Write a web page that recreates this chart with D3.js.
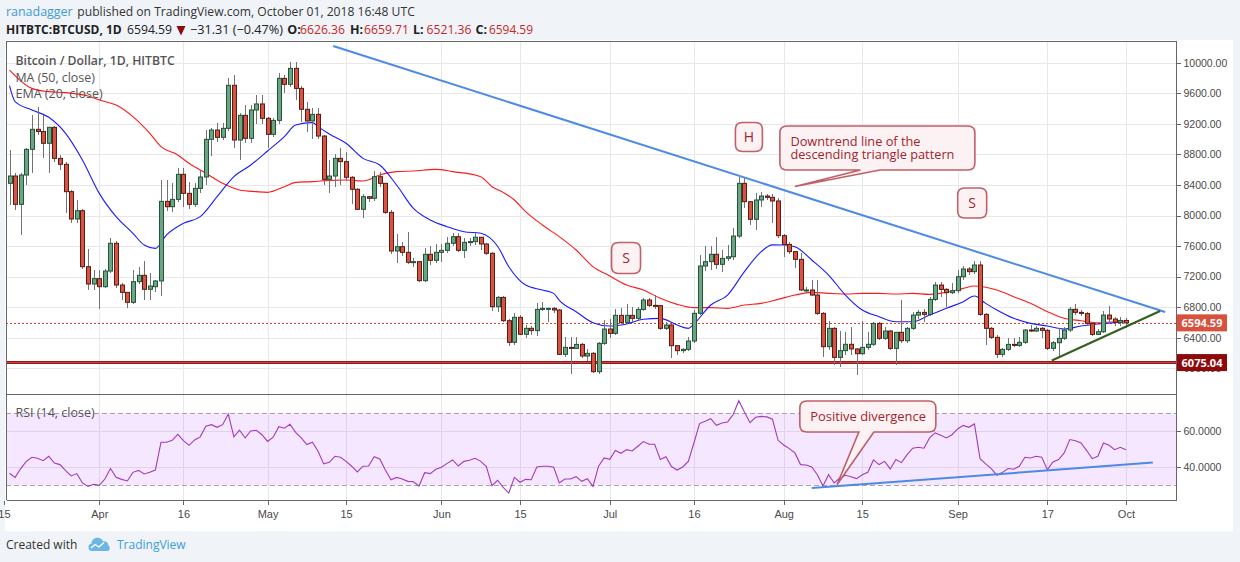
<!DOCTYPE html>
<html lang="en">
<head>
<meta charset="UTF-8">
<title>HITBTC:BTCUSD 1D</title>
<style>
  body { margin: 0; background: #f0f3f7; }
  svg { display: block; font-family: "Open Sans", "Liberation Sans", sans-serif; }
  .grid line { stroke: #e8e8e8; stroke-width: 1px; shape-rendering: crispEdges; }
  .frame { stroke: #666; stroke-width: 1px; shape-rendering: crispEdges; fill: none; }
  .axis text { fill: #4a4a4a; font-size: 10.5px; }
  .axis line { stroke: #666; shape-rendering: crispEdges; }
  .axis path { display: none; }
  .wick { stroke: #737375; stroke-width: 1px; shape-rendering: crispEdges; }
  .legend { fill: #555; font-size: 12.5px; }
  .callout path { fill: #fdf2f3; stroke: #b03a44; stroke-width: 1.6px; stroke-opacity: 0.8; }
  .callout text { fill: #a1242e; }
</style>
</head>
<body>
<svg></svg>
<script src="https://cdnjs.cloudflare.com/ajax/libs/d3/7.8.5/d3.min.js"></script>
<script>

// one candle per day, day 0 = 2018-03-16
var startDate = Date.UTC(2018, 2, 16);

var opens = [
  8421, 8517, 8146, 8530, 8866, 9128, 9100, 8945, 9154, 8748,
  8670, 8312, 7954, 8063, 7330, 7103, 7173, 7068, 7273, 7636,
  7090, 6994, 6863, 7134, 7217, 7034, 7068, 7143, 8185, 8115,
  8211, 8539, 8290, 8146, 8355, 8504, 8997, 9119, 9023, 9141,
  9704, 8988, 9311, 9010, 9381, 9460, 9272, 9062, 9245, 9795,
  9717, 9926, 9664, 9390, 9237, 9324, 9040, 8473, 8517, 8748,
  8705, 8500, 8343, 8081, 8246, 8225, 8508, 8421, 8041, 7535,
  7592, 7518, 7387, 7396, 7147, 7492, 7413, 7518, 7544, 7636,
  7723, 7544, 7649, 7658, 7715, 7627, 7505, 6806, 6928, 6623,
  6340, 6667, 6445, 6523, 6493, 6771, 6778, 6785, 6763, 6183,
  6274, 6260, 6313, 6161, 6196, 5956, 6327, 6514, 6457, 6693,
  6601, 6693, 6654, 6771, 6894, 6824, 6820, 6523, 6566, 6296,
  6231, 6248, 6357, 6720, 7339, 7396, 7492, 7361, 7439, 7460,
  7731, 8421, 8181, 7950, 8203, 8255, 8238, 8190, 7736, 7622,
  7527, 7426, 7013, 7025, 6959, 6719, 6283, 6523, 6143, 6231,
  6314, 6253, 6191, 6274, 6314, 6588, 6392, 6488, 6261, 6471,
  6361, 6523, 6697, 6732, 6706, 6902, 7090, 7033, 6990, 7016,
  7199, 7300, 7265, 7352, 6706, 6523, 6405, 6183, 6248, 6313,
  6300, 6340, 6501, 6488, 6523, 6497, 6261, 6335, 6392, 6501,
  6772, 6732, 6718, 6588, 6444, 6479, 6697, 6645, 6601, 6626.36
];

var highs = [
  8857, 8560, 8560, 8880, 9315, 9420, 9315, 9160, 9170, 8790,
  8700, 8340, 8200, 8080, 7557, 7287, 7287, 7300, 7710, 7660,
  7110, 7000, 7287, 7330, 7410, 7242, 7155, 8465, 8465, 8420,
  8617, 8617, 8443, 8420, 8595, 9120, 9140, 9206, 9206, 9795,
  9840, 9337, 9446, 9446, 9577, 9577, 9290, 9270, 9860, 9840,
  10010, 10010, 9700, 9490, 9403, 9403, 9060, 8727, 8805, 8888,
  8835, 8520, 8360, 8277, 8260, 8582, 8574, 8430, 8072, 7753,
  7650, 7780, 7450, 7410, 7570, 7600, 7630, 7623, 7723, 7767,
  7767, 7700, 7710, 7767, 7723, 7640, 7520, 6940, 6940, 6640,
  6720, 6700, 6566, 6560, 6850, 6870, 6790, 6800, 6780, 6405,
  6405, 6413, 6330, 6250, 6210, 6350, 6630, 6640, 6776, 6785,
  6840, 6806, 6800, 6916, 6920, 6960, 6830, 6600, 6580, 6310,
  6260, 6413, 6762, 7483, 7600, 7600, 7723, 7548, 7614, 7840,
  8508, 8500, 8190, 8290, 8303, 8280, 8277, 8225, 7760, 7657,
  7540, 7505, 7060, 7155, 7155, 6740, 6620, 6540, 6488, 6470,
  6536, 6270, 6620, 6480, 6610, 6600, 6545, 6500, 6480, 6894,
  6545, 6740, 6763, 6772, 6937, 7134, 7134, 7046, 7112, 7286,
  7339, 7330, 7408, 7400, 6720, 6540, 6430, 6260, 6392, 6392,
  6414, 6520, 6566, 6553, 6540, 6520, 6360, 6523, 6536, 6798,
  6842, 6760, 6740, 6600, 6520, 6755, 6815, 6670, 6665, 6659.71
];

var lows = [
  8137, 8070, 7745, 8400, 8550, 9050, 8750, 8550, 8700, 8600,
  8030, 7900, 7900, 7300, 7025, 7025, 6772, 7050, 7250, 7050,
  6894, 6785, 6840, 7100, 6894, 6894, 6994, 6950, 8060, 8050,
  8180, 8115, 8080, 8115, 8300, 8400, 8780, 8966, 8988, 9100,
  8880, 8726, 8950, 8950, 9200, 9200, 8880, 9030, 9200, 9600,
  9680, 9510, 9228, 9097, 8997, 9000, 8400, 8290, 8378, 8400,
  8450, 8150, 8070, 7963, 8180, 8190, 8378, 8015, 7500, 7374,
  7470, 7360, 7330, 7130, 7133, 7350, 7374, 7396, 7505, 7600,
  7525, 7448, 7600, 7620, 7550, 7480, 6750, 6740, 6600, 6296,
  6310, 6430, 6392, 6440, 6427, 6750, 6610, 6720, 6180, 6152,
  5921, 6250, 6140, 6100, 5940, 5925, 6300, 6392, 6430, 6580,
  6580, 6600, 6620, 6750, 6800, 6780, 6500, 6500, 6130, 6174,
  6200, 6230, 6330, 6700, 7274, 7287, 7300, 7256, 7400, 7420,
  7700, 8094, 7876, 7810, 8115, 8200, 7897, 7700, 7461, 7490,
  7308, 7010, 6990, 6940, 6700, 6152, 6240, 6043, 6013, 6174,
  6174, 5912, 6180, 6240, 6290, 6370, 6370, 6240, 6043, 6330,
  6330, 6500, 6650, 6610, 6690, 6880, 6937, 6806, 6970, 6990,
  7150, 7220, 7230, 6680, 6305, 6380, 6130, 6150, 6230, 6280,
  6280, 6320, 6470, 6470, 6392, 6240, 6230, 6152, 6370, 6480,
  6700, 6690, 6570, 6420, 6430, 6460, 6610, 6560, 6560, 6521.36
];

var closes = [
  8517, 8146, 8530, 8866, 9128, 9100, 8945, 9154, 8748, 8670,
  8312, 7954, 8063, 7330, 7103, 7173, 7068, 7273, 7636, 7090,
  6994, 6863, 7134, 7217, 7034, 7077, 7143, 8185, 8115, 8211,
  8539, 8290, 8146, 8355, 8504, 8997, 9119, 9023, 9141, 9704,
  8988, 9311, 9010, 9381, 9460, 9272, 9062, 9245, 9795, 9717,
  9926, 9664, 9390, 9237, 9324, 9040, 8473, 8517, 8748, 8705,
  8500, 8343, 8081, 8246, 8225, 8508, 8421, 8041, 7535, 7592,
  7518, 7387, 7396, 7147, 7492, 7413, 7518, 7544, 7636, 7723,
  7544, 7649, 7658, 7715, 7627, 7505, 6806, 6928, 6623, 6340,
  6667, 6445, 6523, 6493, 6771, 6785, 6785, 6763, 6183, 6274,
  6260, 6313, 6161, 6196, 5956, 6327, 6514, 6457, 6693, 6601,
  6693, 6654, 6771, 6894, 6824, 6820, 6523, 6566, 6296, 6231,
  6248, 6357, 6720, 7339, 7396, 7492, 7361, 7439, 7460, 7731,
  8421, 8181, 7950, 8203, 8255, 8238, 8190, 7736, 7622, 7527,
  7426, 7025, 7025, 6959, 6719, 6283, 6523, 6143, 6231, 6314,
  6253, 6191, 6274, 6314, 6588, 6392, 6488, 6261, 6471, 6361,
  6523, 6697, 6732, 6706, 6902, 7090, 7033, 6990, 7016, 7199,
  7300, 7265, 7352, 6706, 6523, 6405, 6183, 6248, 6313, 6300,
  6340, 6501, 6488, 6523, 6497, 6261, 6335, 6392, 6501, 6772,
  6732, 6718, 6588, 6444, 6479, 6697, 6645, 6601, 6626.36, 6594.59
];

// MA (50) and EMA (20) at these days
var maDays = [0, 4, 7, 10, 14, 16, 19, 22, 25, 27, 30, 32, 35, 38, 41, 44, 46, 49, 51, 54,
  57, 60, 63, 66, 69, 72, 76, 79, 84, 86, 88, 90, 92, 95, 98, 101, 104, 107, 110, 113,
  116, 119, 122, 125, 128, 131, 134, 137, 140, 143, 146, 149, 152, 155, 158, 161, 164, 167, 170, 172,
  174, 176, 179, 182, 185, 188, 191, 194, 197, 199];
var maValues = [9904, 9664, 9621, 9608, 9564, 9512, 9446, 9294, 9075, 8901, 8792, 8683, 8552, 8421, 8334, 8312, 8303, 8377, 8434, 8443,
  8460, 8465, 8452, 8530, 8574, 8583, 8604, 8574, 8508, 8377, 8303, 8203, 8050, 7875, 7723, 7548, 7330, 7208, 7090, 7025,
  6916, 6837, 6794, 6794, 6785, 6828, 6850, 6902, 6959, 6994, 6981, 6972, 6981, 6981, 6972, 6981, 6968, 6994, 7046, 7077,
  7060, 7025, 6937, 6850, 6741, 6654, 6623, 6597, 6610, 6623];

var emaDays = [0, 1, 4, 7, 10, 13, 16, 19, 22, 24, 26, 28, 31, 34, 37, 40, 43, 46, 49, 51,
  54, 55, 57, 60, 63, 66, 69, 72, 75, 78, 81, 84, 87, 89, 92, 95, 97, 98, 101, 104,
  107, 110, 113, 116, 119, 121, 122, 125, 128, 131, 134, 136, 138, 140, 143, 146, 149, 152, 155, 158,
  161, 164, 167, 170, 172, 174, 176, 179, 182, 185, 188, 191, 194, 197, 199];
var emaValues = [9700, 9490, 9381, 9285, 9075, 8726, 8290, 7985, 7767, 7614, 7570, 7745, 7897, 7985, 8246, 8508, 8661, 8844, 9032, 9184,
  9215, 9163, 9067, 8945, 8748, 8661, 8399, 8094, 7941, 7854, 7788, 7767, 7597, 7330, 7090, 7025, 6981, 6890, 6741, 6597,
  6553, 6580, 6641, 6654, 6567, 6523, 6580, 6828, 6959, 7265, 7527, 7615, 7614, 7592, 7418, 7221, 6959, 6763, 6676, 6610,
  6610, 6697, 6785, 6872, 6946, 6850, 6763, 6654, 6588, 6553, 6514, 6553, 6580, 6597, 6610];

var rsiValues = [
  36.7, 34.4, 39.3, 43.3, 45.6, 45.0, 43.7, 46.1, 42.4, 41.5,
  38.1, 35.2, 36.5, 31.3, 29.4, 30.6, 30.0, 33.5, 39.3, 34.4,
  33.3, 32.4, 37.2, 38.3, 36.3, 37.2, 38.5, 53.9, 53.9, 55.0,
  58.3, 54.8, 52.2, 55.2, 56.9, 62.8, 63.7, 62.2, 63.7, 69.6,
  56.9, 60.6, 56.3, 60.2, 60.6, 58.1, 54.4, 56.7, 62.6, 61.7,
  63.9, 59.4, 56.3, 52.6, 53.9, 48.9, 41.9, 42.8, 46.1, 45.6,
  43.3, 40.6, 37.4, 40.6, 40.7, 45.9, 44.6, 38.5, 33.1, 34.4,
  33.5, 32.2, 32.0, 29.6, 37.0, 36.5, 38.9, 40.0, 42.2, 44.1,
  40.7, 43.3, 43.9, 45.0, 43.3, 40.4, 29.8, 32.8, 28.9, 25.7,
  34.4, 31.7, 33.3, 33.1, 40.2, 40.6, 40.6, 40.0, 31.3, 33.5,
  33.5, 34.8, 32.2, 33.7, 29.4, 40.6, 45.2, 44.4, 49.3, 47.8,
  49.8, 49.1, 51.7, 54.3, 52.8, 52.8, 44.4, 45.9, 40.4, 38.5,
  40.2, 43.3, 53.5, 64.3, 65.6, 67.0, 63.3, 64.6, 65.2, 69.3,
  77.0, 70.7, 64.8, 67.8, 68.3, 68.0, 66.7, 55.0, 52.4, 50.4,
  48.0, 41.5, 41.3, 40.2, 35.9, 29.6, 35.9, 31.3, 34.1, 35.6,
  34.8, 33.7, 35.9, 37.2, 44.1, 41.5, 43.3, 39.1, 44.3, 42.6,
  47.0, 50.6, 51.1, 50.6, 56.3, 59.1, 57.8, 56.3, 58.1, 61.3,
  63.3, 62.2, 64.1, 44.8, 41.9, 39.3, 35.6, 37.2, 39.3, 38.9,
  40.6, 45.6, 45.2, 46.1, 45.6, 38.7, 43.0, 44.3, 48.0, 55.4,
  54.8, 53.5, 49.3, 44.8, 46.1, 53.5, 52.2, 49.8, 51.1, 49.8
];

var priceTicks = [6000, 6400, 6800, 7200, 7600, 8000, 8400, 8800, 9200, 9600, 10000];
var rsiTicks = [40, 60];
var timeTicks = ["2018-03-15", "2018-04-01", "2018-04-16", "2018-05-01", "2018-05-15", "2018-06-01", "2018-06-15",
  "2018-07-01", "2018-07-16", "2018-08-01", "2018-08-15", "2018-09-01", "2018-09-17", "2018-10-01"];
var timeLabels = ["15", "Apr", "16", "May", "15", "Jun", "15", "Jul", "16", "Aug", "15", "Sep", "17", "Oct"];

var lastPrice = 6594.59;
var supportPrice = 6075.04;

// drawings, in [day, price] / [day, rsi]
var downtrend = [[57.7, 10218], [206.0, 6737]];
var risingSupport = [[185.8, 6102], [205.1, 6750]];
var rsiTrend = [[143.0, 28.5], [203.8, 42.6]];

var width = 1240,
    height = 562,
    left = 6,
    right = 1176,
    mainTop = 41,
    mainBottom = 394,
    rsiBottom = 500;

function day(i) { return new Date(startDate + i * 864e5); }

// scale a text's font so that it spans the given width
function fit(sel, w) {
  var size = parseFloat(sel.style("font-size"));
  var len = sel.node().getComputedTextLength();
  if (len > 0) sel.style("font-size", (size * w / len).toFixed(2) + "px");
  return sel;
}

var x = d3.scaleUtc()
  .domain([day(-0.624), day(207.93)])
  .range([left, right]);

var y = d3.scaleLinear()
  .domain([10000, 6000])
  .range([62.7, 368.3]);

var ry = d3.scaleLinear()
  .domain([70, 30])
  .range([413.3, 485.3]);

var svg = d3.select("svg")
  .attr("width", width)
  .attr("height", height);

var defs = svg.append("defs");
defs.append("clipPath").attr("id", "clipMain")
  .append("rect").attr("x", left).attr("y", mainTop).attr("width", right - left).attr("height", mainBottom - mainTop);
defs.append("clipPath").attr("id", "clipRsi")
  .append("rect").attr("x", left).attr("y", mainBottom).attr("width", right - left).attr("height", rsiBottom - mainBottom);

// chart card
svg.append("rect")
  .attr("x", 5).attr("y", 40).attr("width", 1228).attr("height", 491)
  .attr("fill", "#fff");

// header
var header = [
  // text, x, baseline, width to span, colour, bold
  ["ranadagger", 6, 16, 66.7, "#3d9ad8", false],
  ["published on TradingView.com, October 01, 2018 16:48 UTC", 77.3, 16, 337.7, "#333", false],
  ["HITBTC:BTCUSD, 1D", 6, 34.3, 115.7, "#222", true],
  ["6594.59", 127, 34.3, 45, "#222", false],
  ["\u221231.31 (\u22120.47%)", 190, 34.3, 93, "#222", false],
  ["O:", 287.3, 34.3, 0, "#222", true],
  ["6626.36", 300, 34.3, 45, "#c62828", false],
  ["H:", 350, 34.3, 0, "#222", true],
  ["6659.71", 364, 34.3, 45, "#c62828", false],
  ["L:", 413, 34.3, 0, "#222", true],
  ["6521.36", 426.5, 34.3, 45, "#c62828", false],
  ["C:", 475.5, 34.3, 0, "#222", true],
  ["6594.59", 489, 34.3, 44, "#c62828", false]
];
header.forEach(function(h) {
  var t = svg.append("text")
    .attr("x", h[1]).attr("y", h[2])
    .attr("fill", h[4])
    .style("font-size", "12.5px")
    .style("font-weight", h[5] ? "bold" : "normal")
    .text(h[0]);
  if (h[3]) fit(t, h[3]);
});
svg.append("path")
  .attr("d", "M176.5,26 L185.5,26 L181,35.5 Z")
  .attr("fill", "#8b0a0a");

// grid
var grid = svg.append("g").attr("class", "grid");
grid.selectAll(".gy")
  .data(priceTicks)
  .enter().append("line")
    .attr("x1", left).attr("x2", right)
    .attr("y1", function(d) { return Math.round(y(d)) + 0.5; })
    .attr("y2", function(d) { return Math.round(y(d)) + 0.5; });
grid.selectAll(".gr")
  .data(rsiTicks)
  .enter().append("line")
    .attr("x1", left).attr("x2", right)
    .attr("y1", function(d) { return Math.round(ry(d)) + 0.5; })
    .attr("y2", function(d) { return Math.round(ry(d)) + 0.5; });
var tickDates = timeTicks.map(function(t) { return new Date(t + "T00:00:00Z"); });
grid.selectAll(".gx")
  .data(tickDates.filter(function(d) { return x(d) > left; }))
  .enter().append("line")
    .attr("y1", mainTop).attr("y2", rsiBottom)
    .attr("x1", function(d) { return Math.round(x(d)) + 0.5; })
    .attr("x2", function(d) { return Math.round(x(d)) + 0.5; });

// RSI band
svg.append("rect")
  .attr("x", left).attr("width", right - left)
  .attr("y", ry(70)).attr("height", ry(30) - ry(70))
  .attr("fill", "rgba(153, 21, 255, 0.1)");
svg.selectAll(".band")
  .data([70, 30])
  .enter().append("line")
    .attr("x1", left).attr("x2", right)
    .attr("y1", function(d) { return Math.round(ry(d)) + 0.5; })
    .attr("y2", function(d) { return Math.round(ry(d)) + 0.5; })
    .attr("stroke", "#a9a4ad")
    .attr("stroke-dasharray", "5,3");

var main = svg.append("g").attr("clip-path", "url(#clipMain)");
var pane = svg.append("g").attr("clip-path", "url(#clipRsi)");

// support level and last price line
main.append("line")
  .attr("x1", left).attr("x2", right)
  .attr("y1", y(supportPrice)).attr("y2", y(supportPrice))
  .attr("stroke", "#9e1414").attr("stroke-width", 3);
main.append("line")
  .attr("x1", left).attr("x2", right)
  .attr("y1", y(supportPrice)).attr("y2", y(supportPrice))
  .attr("stroke", "#c45a5a").attr("stroke-width", 0.8);
main.append("line")
  .attr("x1", left).attr("x2", right)
  .attr("y1", Math.round(y(lastPrice)) + 0.5).attr("y2", Math.round(y(lastPrice)) + 0.5)
  .attr("stroke", "#e0402a").attr("stroke-dasharray", "2,2");

// moving averages
var line = d3.line()
  .x(function(d) { return x(day(d[0])); })
  .y(function(d) { return y(d[1]); })
  .curve(d3.curveMonotoneX);

main.append("path")
  .datum(d3.zip(maDays, maValues))
  .attr("d", line)
  .attr("fill", "none").attr("stroke", "#ff1a1a").attr("stroke-width", 1.1);
main.append("path")
  .datum(d3.zip(emaDays, emaValues))
  .attr("d", line)
  .attr("fill", "none").attr("stroke", "#1a1aff").attr("stroke-width", 1.1);

// candles
var candles = main.selectAll(".candle")
  .data(d3.range(closes.length))
  .enter().append("g");

candles.append("line")
  .attr("class", "wick")
  .attr("x1", function(i) { return Math.round(x(day(i))) + 0.5; })
  .attr("x2", function(i) { return Math.round(x(day(i))) + 0.5; })
  .attr("y1", function(i) { return y(highs[i]); })
  .attr("y2", function(i) { return y(lows[i]); });

candles.append("rect")
  .attr("x", function(i) { return Math.round(x(day(i))) - 1.5; })
  .attr("width", 4)
  .attr("y", function(i) { return y(Math.max(opens[i], closes[i])); })
  .attr("height", function(i) { return Math.max(1, Math.abs(y(opens[i]) - y(closes[i]))); })
  .attr("fill", function(i) { return closes[i] >= opens[i] ? "#6ba583" : "#d75442"; })
  .attr("stroke", function(i) { return closes[i] >= opens[i] ? "#225437" : "#5b1a13"; })
  .attr("stroke-width", 1);

// trend lines
var tline = d3.line()
  .x(function(d) { return x(day(d[0])); })
  .y(function(d) { return y(d[1]); });

main.append("path")
  .attr("d", tline(downtrend))
  .attr("stroke", "#4d8ae6").attr("stroke-width", 2).attr("fill", "none");
main.append("path")
  .attr("d", tline(risingSupport))
  .attr("stroke", "#335f1f").attr("stroke-width", 2).attr("fill", "none");

// RSI
pane.append("path")
  .datum(rsiValues)
  .attr("d", d3.line()
    .x(function(d, i) { return x(day(i)); })
    .y(function(d) { return ry(d); }))
  .attr("fill", "none").attr("stroke", "#a23bbd").attr("stroke-width", 1.1);
pane.append("path")
  .attr("d", d3.line()
    .x(function(d) { return x(day(d[0])); })
    .y(function(d) { return ry(d[1]); })(rsiTrend))
  .attr("stroke", "#4d8ae6").attr("stroke-width", 2).attr("fill", "none");

// callouts
function calloutPath(cx, cy, w, h, r, tip) {
  var x0 = cx - w / 2, y0 = cy - h / 2, x1 = cx + w / 2, y1 = cy + h / 2;
  var p = d3.path();
  p.moveTo(x0 + r, y0);
  p.lineTo(x1 - r, y0);
  p.quadraticCurveTo(x1, y0, x1, y0 + r);
  p.lineTo(x1, y1 - r);
  p.quadraticCurveTo(x1, y1, x1 - r, y1);
  if (tip) {
    p.lineTo(cx + tip.b1, y1);
    p.lineTo(tip.x, tip.y);
    p.lineTo(cx + tip.b0, y1);
  }
  p.lineTo(x0 + r, y1);
  p.quadraticCurveTo(x0, y1, x0, y1 - r);
  p.lineTo(x0, y0 + r);
  p.quadraticCurveTo(x0, y0, x0 + r, y0);
  p.closePath();
  return p.toString();
}

var callouts = [
  { lines: ["H"], at: [131.8, 9027], w: 27, h: 29, size: 14 },
  { lines: ["S"], at: [109.9, 7444], w: 29, h: 31, size: 14 },
  { lines: ["S"], at: [171.6, 8164], w: 29, h: 30, size: 14 },
  { lines: ["Downtrend line of the", "descending triangle pattern"], at: [154.7, 8883], w: 195, h: 44, size: 12,
    span: 164.3, lead: 12.7, tip: [140.0, 8380], base: [-17, 2.5] },
  { lines: ["Positive divergence"], at: [153.0, 68.2], w: 136, h: 31, size: 12, rsi: true,
    span: 115.7, tip: [147.5, 30.3], base: [-9, 6] }
];

callouts.forEach(function(c) {
  var sy = c.rsi ? ry : y;
  var cx = x(day(c.at[0])), cy = sy(c.at[1]);
  var tip = c.tip ? { x: x(day(c.tip[0])), y: sy(c.tip[1]), b0: c.base[0], b1: c.base[1] } : null;
  var g = svg.append("g").attr("class", "callout");
  g.append("path").attr("d", calloutPath(cx, cy, c.w, c.h, 7, tip));
  var t = g.append("text").style("font-size", c.size + "px");
  if (c.span) {
    // left aligned block of lines, sized from its longest line
    var x0 = cx - c.w / 2 + 10.5;
    var lead = c.lead || 0;
    var top = cy - (c.lines.length - 1) * lead / 2 + c.size * 0.36;
    var spans = c.lines.map(function(s, k) {
      return t.append("tspan").attr("x", x0).attr("y", top + k * lead).text(s);
    });
    var longest = spans.reduce(function(a, b) {
      return b.node().getComputedTextLength() > a.node().getComputedTextLength() ? b : a;
    });
    var size = c.size * c.span / longest.node().getComputedTextLength();
    t.style("font-size", size.toFixed(2) + "px");
  } else {
    t.attr("x", cx).attr("y", cy + c.size * 0.36)
      .attr("text-anchor", "middle")
      .text(c.lines[0]);
  }
});

// legends
var leg = svg.append("g").attr("class", "legend");
fit(leg.append("text").attr("x", 15.5).attr("y", 65).style("font-weight", 600).text("Bitcoin / Dollar, 1D, HITBTC"), 159.3);
fit(leg.append("text").attr("x", 15.5).attr("y", 81.5).text("MA (50, close)"), 79.3);
leg.append("text").attr("x", 15.5).attr("y", 98).text("EMA (20, close)");
leg.append("text").attr("x", 15.5).attr("y", 416.5).text("RSI (14, close)");

// frame
svg.append("path")
  .attr("class", "frame")
  .attr("d", "M" + (left + 0.5) + "," + rsiBottom + "V" + (mainTop + 0.5) + "H" + (right + 0.5) + "V" + (rsiBottom + 0.5) + "H" + (left + 0.5));
svg.append("line")
  .attr("class", "frame")
  .attr("x1", left).attr("x2", right)
  .attr("y1", mainBottom + 0.5).attr("y2", mainBottom + 0.5);

// axes
svg.append("g")
  .attr("class", "axis")
  .attr("transform", "translate(" + (right + 0.5) + ",0)")
  .call(d3.axisRight(y).tickValues(priceTicks).tickSize(4).tickPadding(3).tickFormat(d3.format(".2f")));

svg.append("g")
  .attr("class", "axis")
  .attr("transform", "translate(" + (right + 0.5) + ",0)")
  .call(d3.axisRight(ry).tickValues(rsiTicks).tickSize(4).tickPadding(3).tickFormat(d3.format(".4f")));

svg.append("g")
  .attr("class", "axis")
  .attr("transform", "translate(0," + (rsiBottom + 0.5) + ")")
  .call(d3.axisBottom(x).tickValues(tickDates).tickSize(4).tickPadding(6)
    .tickFormat(function(d, i) { return timeLabels[i]; }))
  .selectAll("text").style("font-size", "11px");

// price labels on the axis
[[lastPrice, "#d9503c"], [supportPrice, "#8e0a0a"]].forEach(function(p) {
  var cy = y(p[0]);
  svg.append("rect")
    .attr("x", right + 1).attr("y", cy - 8.5)
    .attr("width", 50).attr("height", 17)
    .attr("fill", p[1]);
  svg.append("text")
    .attr("x", right + 26).attr("y", cy + 4)
    .attr("text-anchor", "middle")
    .attr("fill", "#fff")
    .style("font-size", "11px").style("font-weight", "bold")
    .text(d3.format(".2f")(p[0]));
});

// footer
svg.append("text").attr("x", 6).attr("y", 549).attr("fill", "#333").style("font-size", "12px").text("Created with");
svg.append("path")
  .attr("d", "M92,551 a3.8,3.8 0 0 1 -0.5,-7.5 a6,6 0 0 1 11.5,-2.2 a4.5,4.5 0 0 1 5.5,4.2 a3.2,3.2 0 0 1 -0.5,5.5 Z")
  .attr("fill", "#6cb6e4");
svg.append("path")
  .attr("d", "M91,548 L95,544.5 L99,547 L104,542.5")
  .attr("fill", "none").attr("stroke", "#fff").attr("stroke-width", 1.4);
svg.append("text").attr("x", 117).attr("y", 549).attr("fill", "#3a9fe0").style("font-size", "12px").text("TradingView");

</script>
</body>
</html>
